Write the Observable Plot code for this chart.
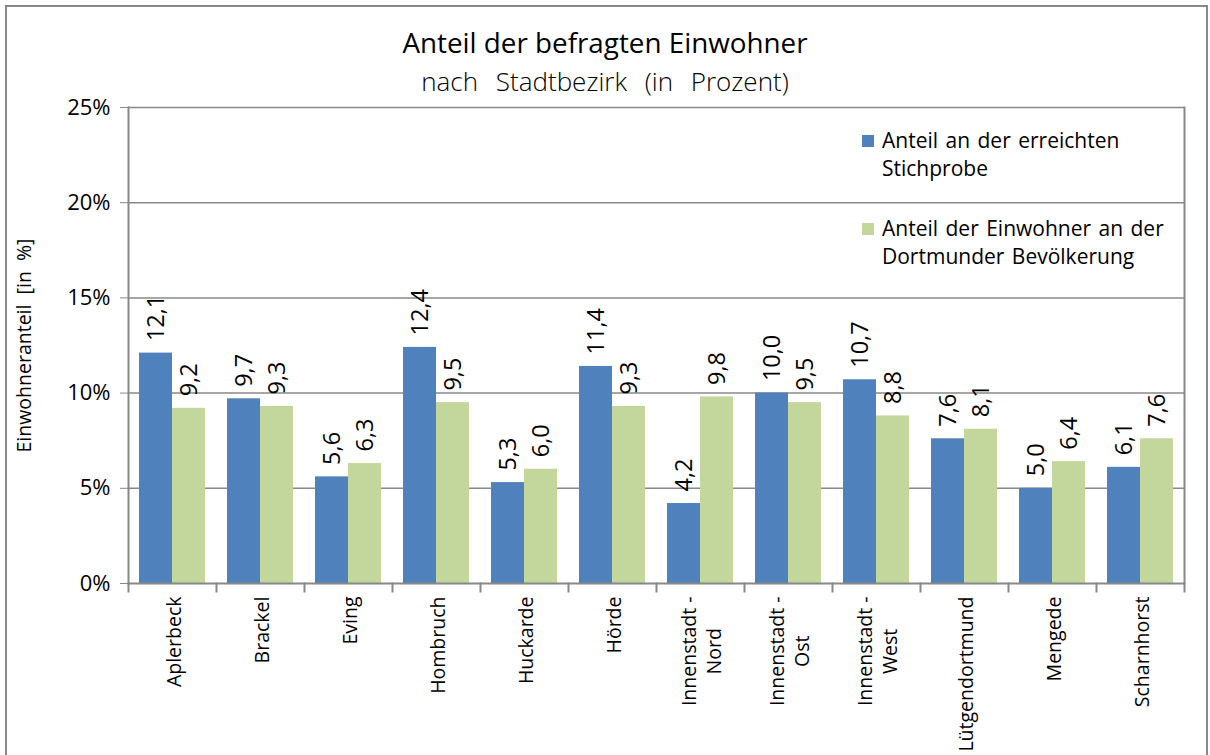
<!DOCTYPE html>
<html>
<head>
<meta charset="utf-8">
<script src="https://cdn.jsdelivr.net/npm/d3@7"></script>
<script src="https://cdn.jsdelivr.net/npm/@observablehq/plot@0.6"></script>
<style>
  html, body { margin: 0; padding: 0; background: #fff; }
  #wrap { position: relative; width: 1210px; height: 755px; overflow: hidden; font-family: "Open Sans", sans-serif; color: #000; }
  #border { position: absolute; left: 5px; top: 5px; width: 1203px; height: 800px; border: 2px solid #888; box-sizing: border-box; }
  #title { position: absolute; left: 0; top: 24px; width: 1210px; text-align: center; font-size: 27.8px; line-height: 36px; }
  #subtitle { position: absolute; left: 0; top: 64px; width: 1210px; text-align: center; font-size: 26px; line-height: 34px; font-weight: 300; word-spacing: 11px; }
  #chart { position: absolute; left: 0; top: 0; }
  .leg { position: absolute; left: 862px; font-size: 21px; line-height: 28px; }
  .leg .sw { position: absolute; left: 0; width: 12px; height: 12px; }
  .leg .tx { position: absolute; left: 20px; white-space: nowrap; word-spacing: 2px; }
</style>
</head>
<body>
<div id="wrap">
  <div id="border"></div>
  <div id="title">Anteil der befragten Einwohner</div>
  <div id="subtitle">nach Stadtbezirk (in Prozent)</div>
  <div id="chart"></div>
  <div id="legend"></div>
</div>
<script>
// ---- data ----
const bezirke = ["Aplerbeck", "Brackel", "Eving", "Hombruch", "Huckarde", "Hörde",
  "Innenstadt -\nNord", "Innenstadt -\nOst", "Innenstadt -\nWest", "Lütgendortmund", "Mengede", "Scharnhorst"];
const serien = ["Anteil an der erreichten Stichprobe", "Anteil der Einwohner an der Dortmunder Bevölkerung"];
const legendZeilen = [["Anteil an der erreichten", "Stichprobe"], ["Anteil der Einwohner an der", "Dortmunder Bevölkerung"]];
const stichprobe = [12.1, 9.7, 5.6, 12.4, 5.3, 11.4, 4.2, 10.0, 10.7, 7.6, 5.0, 6.1];
const bevoelkerung = [9.2, 9.3, 6.3, 9.5, 6.0, 9.3, 9.8, 9.5, 8.8, 8.1, 6.4, 7.6];
const yTicks = [0, 5, 10, 15, 20, 25];
const farben = ["#4F81BD", "#C3D69B"];
const yLabel = "Einwohneranteil\u00A0 [in\u00A0 %]";

const data = bezirke.flatMap((b, i) => [
  {bezirk: b, serie: serien[0], wert: stichprobe[i]},
  {bezirk: b, serie: serien[1], wert: bevoelkerung[i]}
]);
const fmt = v => d3.format(".1f")(v).replace(".", ",");
const grau = "#888";

const plotHeight = 755 - 107 - 172;

const chart = Plot.plot({
  width: 1210,
  height: 755,
  marginLeft: 128,
  marginRight: 26,
  marginTop: 107,
  marginBottom: 172,
  style: {fontFamily: "'Open Sans', sans-serif", fontSize: "21px", color: "#000", background: "transparent"},
  fx: {domain: bezirke, padding: 0, label: null, axis: null},
  x: {domain: serien, paddingInner: 0, paddingOuter: 0.333, axis: null},
  y: {domain: [0, 25], label: null, axis: null},
  color: {domain: serien, range: farben},
  marks: [
    Plot.ruleY(yTicks.slice(1), {stroke: grau, strokeWidth: 1.5}),
    Plot.barY(data, {fx: "bezirk", x: "serie", y: "wert", fill: "serie"}),
    Plot.text(data, {fx: "bezirk", x: "serie", y: "wert", text: d => fmt(d.wert), rotate: -90, textAnchor: "start", lineAnchor: "middle", dy: -12, fontSize: 23.5, fill: "#000"}),
    Plot.ruleY([0], {stroke: grau, strokeWidth: 2}),
    Plot.axisY({ticks: yTicks, tickFormat: d => d + "%", tickSize: 8, tickPadding: 10, stroke: grau, fontSize: 22, label: null}),
    Plot.axisY({ticks: [], label: yLabel, labelAnchor: "center", labelOffset: 111, labelArrow: false, fontSize: 19.5}),
    Plot.axisFx({anchor: "bottom", tickSize: 0, tickPadding: 13, rotate: -90, textAnchor: "end", lineAnchor: "middle", lineHeight: 1.3, fontSize: 19.5, label: null}),
    Plot.frame({anchor: "left", facetAnchor: "left", stroke: grau, strokeWidth: 2}),
    Plot.frame({anchor: "right", facetAnchor: "right", stroke: grau, strokeWidth: 2}),
    Plot.frame({anchor: "left", insetTop: plotHeight, insetBottom: -8, stroke: grau, strokeWidth: 2}),
    Plot.frame({anchor: "right", facetAnchor: "right", insetTop: plotHeight, insetBottom: -8, stroke: grau, strokeWidth: 2})
  ]
});
document.getElementById("chart").appendChild(chart);

// center second line of multi-line category labels relative to the first (as in the original)
chart.querySelectorAll('g[aria-label="fx-axis tick label"] text').forEach(t => {
  const spans = t.querySelectorAll("tspan");
  if (spans.length > 1) {
    const w = spans[0].getComputedTextLength();
    spans.forEach(s => { s.setAttribute("text-anchor", "middle"); s.setAttribute("x", -w / 2); });
  }
});

// legend
const legend = document.getElementById("legend");
const legTops = [126, 214];
serien.forEach((s, i) => {
  const g = document.createElement("div");
  g.className = "leg";
  g.style.top = legTops[i] + "px";
  const sw = document.createElement("div");
  sw.className = "sw";
  sw.style.background = farben[i];
  sw.style.top = "9px";
  g.appendChild(sw);
  const tx = document.createElement("div");
  tx.className = "tx";
  tx.innerHTML = legendZeilen[i].join("<br>");
  g.appendChild(tx);
  legend.appendChild(g);
});
</script>
</body>
</html>
